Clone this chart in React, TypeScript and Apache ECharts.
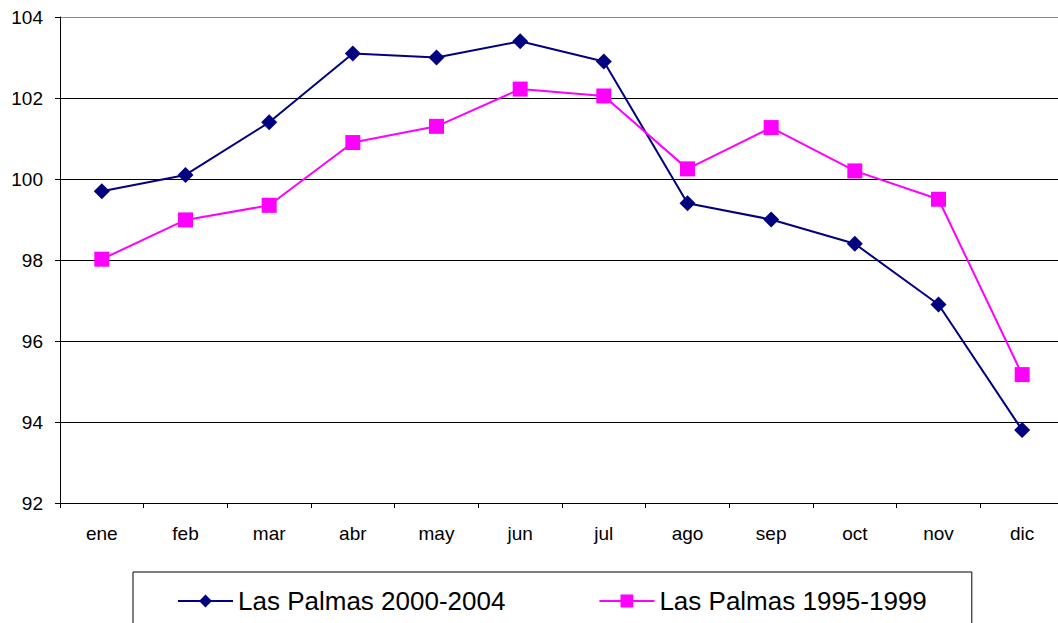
import React, { useEffect, useRef } from "react";
import * as echarts from "echarts";

const months = ["ene", "feb", "mar", "abr", "may", "jun", "jul", "ago", "sep", "oct", "nov", "dic"];
const lasPalmas2000_2004 = [99.7, 100.1, 101.4, 103.1, 103.0, 103.4, 102.9, 99.4, 99.0, 98.4, 96.9, 93.8];
const lasPalmas1995_1999 = [98.02, 98.99, 99.35, 100.9, 101.3, 102.22, 102.05, 100.25, 101.27, 100.2, 99.5, 95.17];
const seriesNames = ["Las Palmas 2000-2004", "Las Palmas 1995-1999"];
const yMin = 92;
const yMax = 104;
const yInterval = 2;

export default function App() {
  const ref = useRef<HTMLDivElement>(null);
  useEffect(() => {
    if (!ref.current) return;
    const chart = echarts.init(ref.current, undefined, { renderer: "svg" });
    const font = "'Liberation Sans', Arial, sans-serif";
    chart.setOption({
      animation: false,
      backgroundColor: "#fff",
      grid: { left: 60, top: 17, width: 1004, height: 486, containLabel: false },
      xAxis: {
        type: "category",
        data: months,
        boundaryGap: true,
        axisLine: { lineStyle: { color: "#000", width: 1 } },
        axisTick: { show: true, length: 5, lineStyle: { color: "#000" } },
        axisLabel: { color: "#000", fontSize: 19, fontFamily: font, margin: 21, interval: 0 },
        splitLine: { show: false },
      },
      yAxis: {
        type: "value",
        min: yMin,
        max: yMax,
        interval: yInterval,
        axisLine: { show: true, lineStyle: { color: "#000", width: 1 } },
        axisTick: { show: true, length: 5, lineStyle: { color: "#000" } },
        axisLabel: { color: "#000", fontSize: 19, fontFamily: font, margin: 17 },
        splitLine: {
          show: true,
          lineStyle: { color: ["#000", "#000", "#000", "#000", "#000", "#000", "#888"], width: 1 },
        },
      },
      legend: {
        left: 133,
        top: 572,
        orient: "horizontal",
        padding: [16, 45, 30, 44],
        itemGap: 93,
        itemWidth: 55,
        itemHeight: 16,
        borderColor: "#000",
        borderWidth: 1,
        textStyle: { color: "#000", fontSize: 26, fontFamily: font },
        data: seriesNames,
      },
      series: [
        {
          name: seriesNames[0],
          type: "line",
          data: lasPalmas2000_2004,
          color: "#000080",
          lineStyle: { color: "#000080", width: 2 },
          itemStyle: { color: "#000080" },
          symbol: "diamond",
          symbolSize: 16,
          showAllSymbol: true,
        },
        {
          name: seriesNames[1],
          type: "line",
          data: lasPalmas1995_1999,
          color: "#FF00FF",
          lineStyle: { color: "#FF00FF", width: 2 },
          itemStyle: { color: "#FF00FF" },
          symbol: "rect",
          symbolSize: 15,
          showAllSymbol: true,
        },
      ],
    });
    return () => chart.dispose();
  }, []);
  return (
    <div style={{ position: "fixed", left: 0, top: 0, width: 1058, height: 623, overflow: "hidden", background: "#fff" }}>
      <div ref={ref} style={{ width: 1080, height: 623 }} />
    </div>
  );
}
